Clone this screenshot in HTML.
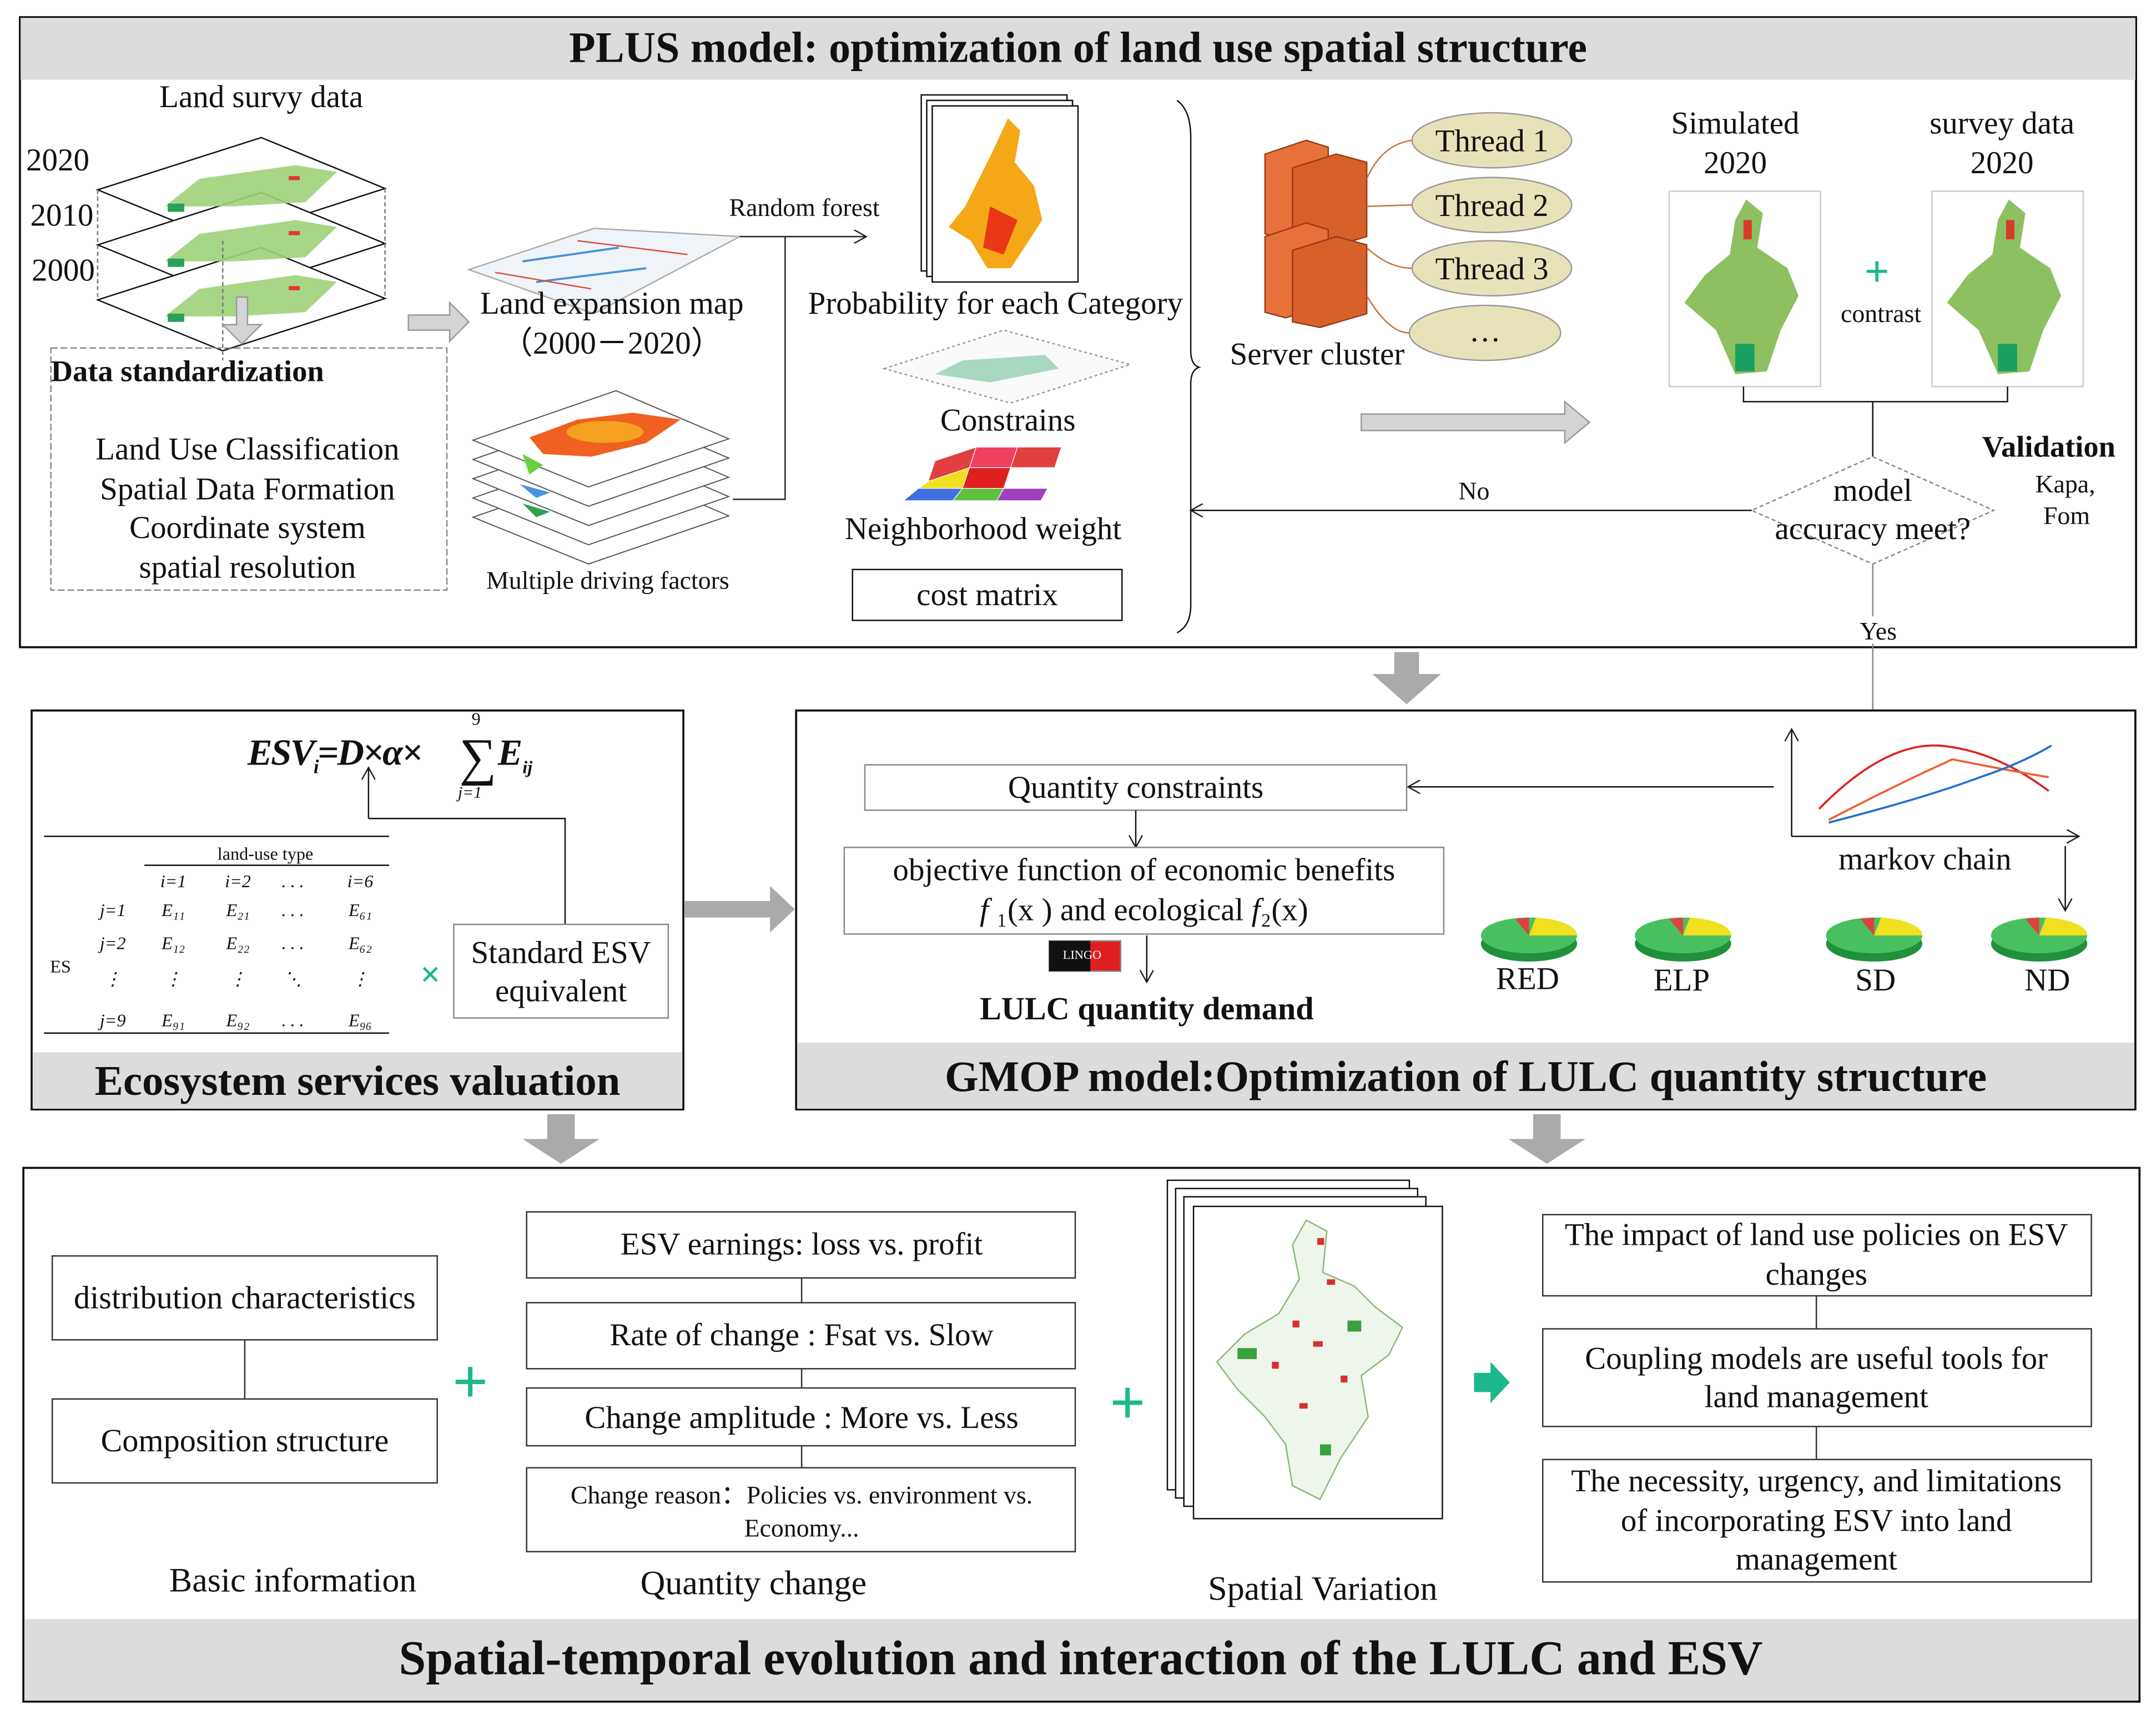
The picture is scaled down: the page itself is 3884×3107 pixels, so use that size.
<!DOCTYPE html>
<html><head><meta charset="utf-8"><style>
html,body{margin:0;padding:0;background:#fff}
svg{display:block}
text{font-family:"Liberation Serif",serif;fill:#111}
</style></head><body>
<svg width="3884" height="3107" viewBox="0 0 1568 1254" preserveAspectRatio="none" xmlns="http://www.w3.org/2000/svg">
<defs>
<marker id="ar" markerWidth="10" markerHeight="10" refX="9" refY="5" orient="auto" markerUnits="userSpaceOnUse"><path d="M0,0 L9,5 L0,10" fill="none" stroke="#222" stroke-width="1"/></marker>
</defs>
<rect width="1568" height="1254" fill="#fff"/>

<!-- TOP BOX -->
<rect x="14.5" y="12.5" width="1539" height="458" fill="#fff" stroke="#111" stroke-width="1.5"/>
<rect x="15" y="13" width="1538" height="45" fill="#dcdcdc"/>
<text x="784" y="45" font-size="31.5" font-weight="bold" text-anchor="middle">PLUS model:  optimization of land use spatial structure</text>

<text x="190" y="78" font-size="23" text-anchor="middle">Land survy data</text>
<text x="19" y="124" font-size="23">2020</text>
<text x="22" y="164" font-size="23">2010</text>
<text x="23" y="204" font-size="23">2000</text>
<g stroke="#111" stroke-width="1" fill="#fff">
<polygon points="71,138 190,100 280,137 162,175"/>
<polygon points="71,178 190,140 280,177 162,215"/>
<polygon points="71,218 190,180 280,217 162,255"/>
</g>
<g fill="#9ed27a" opacity="0.9">
<polygon points="120,150 145,130 215,120 245,125 222,147 170,150"/>
<polygon points="120,190 145,170 215,160 245,165 222,187 170,190"/>
<polygon points="120,230 145,210 215,200 245,205 222,227 170,230"/>
</g>
<g fill="#2aa05a"><rect x="122" y="148" width="12" height="6"/><rect x="122" y="188" width="12" height="6"/><rect x="122" y="228" width="12" height="6"/></g>
<g fill="#e03a2a"><rect x="210" y="128" width="8" height="3"/><rect x="210" y="168" width="8" height="3"/><rect x="210" y="208" width="8" height="3"/></g>
<g stroke="#777" stroke-dasharray="3,2" fill="none"><line x1="71" y1="138" x2="71" y2="218"/><line x1="280" y1="137" x2="280" y2="217"/><line x1="162" y1="175" x2="162" y2="262"/></g>

<polygon points="172,216 180,216 180,236 190,236 176,250 162,236 172,236" fill="#d4d4d4" stroke="#999"/>
<rect x="37" y="253" width="288" height="176" fill="none" stroke="#888" stroke-dasharray="5,2"/>
<text x="37" y="277" font-size="22" font-weight="bold">Data standardization</text>
<g font-size="23" text-anchor="middle"><text x="180" y="334">Land Use Classification</text><text x="180" y="363">Spatial Data Formation</text><text x="180" y="391">Coordinate system</text><text x="180" y="420">spatial resolution</text></g>

<polygon points="297,229 327,229 327,220 341,234 327,248 327,240 297,240" fill="#d4d4d4" stroke="#999"/>
<polygon points="341,196 432,166 538,172 432,228" fill="#eef4f8" stroke="#aaa"/>
<g stroke="#4a8fd8" stroke-width="1.5"><line x1="390" y1="205" x2="470" y2="195"/><line x1="380" y1="190" x2="450" y2="180"/></g>
<g stroke="#e04a3a" stroke-width="1"><line x1="420" y1="175" x2="500" y2="185"/><line x1="360" y1="198" x2="430" y2="210"/></g>
<text x="445" y="228" font-size="23" text-anchor="middle">Land expansion map</text>
<text x="445" y="257" font-size="23" text-anchor="middle">（2000－2020）</text>
<text x="585" y="157" font-size="18.5" text-anchor="middle">Random forest</text>
<polyline points="538,172 630,172" fill="none" stroke="#222" marker-end="url(#ar)"/>
<polyline points="571,172 571,363 533,363" fill="none" stroke="#222"/>
<g stroke="#555" stroke-width="0.8" fill="#fff">
<polygon points="344,376 448,340 530,375 428,410"/>
<polygon points="344,362 448,326 530,361 428,396"/>
<polygon points="344,348 448,312 530,347 428,382"/>
<polygon points="344,334 448,298 530,333 428,368"/>
<polygon points="344,320 448,284 530,319 428,354"/>
</g>
<polygon points="385,318 420,305 460,300 495,305 470,322 430,332 395,330" fill="#f06020"/>
<ellipse cx="440" cy="314" rx="28" ry="8" fill="#f4a020"/>
<polygon points="380,330 395,338 385,345" fill="#6ad040"/>
<polygon points="378,352 400,358 390,362" fill="#4a90e0"/>
<polygon points="380,366 400,372 390,376" fill="#30a050"/>
<text x="442" y="428" font-size="18.5" text-anchor="middle">Multiple driving factors</text>

<g stroke="#111" fill="#fff"><rect x="670" y="69" width="106" height="128"/><rect x="674" y="73" width="106" height="128"/><rect x="678" y="77" width="106" height="128"/></g>
<polygon points="733,86 742,95 738,118 752,135 758,160 745,180 735,195 718,195 706,175 690,165 702,150 712,130 722,110" fill="#f4a818"/>
<polygon points="720,150 740,160 730,185 715,180" fill="#e83818"/>
<text x="724" y="228" font-size="23" text-anchor="middle">Probability for each Category</text>
<polygon points="643,268 730,240 822,265 735,293" fill="#fafafa" stroke="#999" stroke-dasharray="2,2"/>
<polygon points="680,272 700,262 760,258 770,268 720,278" fill="#a8d8c0"/>
<text x="733" y="313" font-size="23" text-anchor="middle">Constrains</text>
<g stroke="#fff" stroke-width="0.5">
<polygon points="680,335 710,325 705,340 675,350" fill="#e04040"/>
<polygon points="710,325 740,325 735,340 705,340" fill="#f04060"/>
<polygon points="740,325 772,325 767,340 735,340" fill="#e04040"/>
<polygon points="675,350 705,340 700,355 668,355" fill="#f0e020"/>
<polygon points="705,340 735,340 730,355 700,355" fill="#e02020"/>
<polygon points="735,340 767,340 762,355 730,355" fill="#fff"/>
<polygon points="668,355 700,355 693,364 657,364" fill="#4070e0"/>
<polygon points="700,355 730,355 725,364 693,364" fill="#60c040"/>
<polygon points="730,355 762,355 757,364 725,364" fill="#a040c0"/>
</g>
<text x="715" y="392" font-size="23" text-anchor="middle">Neighborhood weight</text>
<rect x="620" y="414" width="196" height="37" fill="#fff" stroke="#111"/>
<text x="718" y="440" font-size="23" text-anchor="middle">cost matrix</text>
<path d="M856,73 Q866,80 866,100 L866,255 Q866,265 872,267 Q866,269 866,279 L866,440 Q866,455 856,460" fill="none" stroke="#111"/>

<g stroke="#9a3a18" stroke-width="1">
<polygon points="920,112 950,102 966,107 966,165 935,174 920,170" fill="#e8703a"/>
<polygon points="940,122 972,112 994,118 994,172 960,182 940,178" fill="#d8602a"/>
<polygon points="920,172 950,162 966,167 966,222 935,231 920,227" fill="#e8703a"/>
<polygon points="940,182 972,172 994,178 994,228 960,238 940,234" fill="#d8602a"/>
</g>
<text x="958" y="265" font-size="23" text-anchor="middle">Server cluster</text>
<g fill="#e8e2b8" stroke="#999"><ellipse cx="1085" cy="102" rx="58" ry="20"/><ellipse cx="1085" cy="149" rx="58" ry="20"/><ellipse cx="1085" cy="195" rx="58" ry="20"/><ellipse cx="1080" cy="242" rx="55" ry="20"/></g>
<g stroke="#c8703a" fill="none"><path d="M994,130 Q1005,105 1027,102"/><path d="M994,150 L1027,149"/><path d="M994,180 Q1010,195 1027,195"/><path d="M994,215 Q1010,242 1025,242"/></g>
<g font-size="23" text-anchor="middle"><text x="1085" y="110">Thread 1</text><text x="1085" y="157">Thread 2</text><text x="1085" y="203">Thread 3</text><text x="1080" y="248">…</text></g>
<polygon points="990,301 1138,301 1138,292 1156,307 1138,322 1138,313 990,313" fill="#d4d4d4" stroke="#999"/>

<text x="1262" y="97" font-size="23" text-anchor="middle">Simulated</text>
<text x="1262" y="126" font-size="23" text-anchor="middle">2020</text>
<text x="1456" y="97" font-size="23" text-anchor="middle">survey data</text>
<text x="1456" y="126" font-size="23" text-anchor="middle">2020</text>
<rect x="1214" y="139" width="110" height="142" fill="#fff" stroke="#ccc"/>
<rect x="1405" y="139" width="110" height="142" fill="#fff" stroke="#ccc"/>
<g fill="#8cc060">
<polygon points="1270,145 1282,155 1278,180 1300,195 1308,215 1295,240 1285,270 1262,272 1248,240 1225,220 1240,200 1258,185 1262,160"/>
<polygon points="1461,145 1473,155 1469,180 1491,195 1499,215 1486,240 1476,270 1453,272 1439,240 1416,220 1431,200 1449,185 1453,160"/>
</g>
<g fill="#1aa060"><rect x="1262" y="250" width="14" height="20"/><rect x="1453" y="250" width="14" height="20"/></g>
<g fill="#d83a2a"><rect x="1268" y="160" width="6" height="14"/><rect x="1459" y="160" width="6" height="14"/></g>
<text x="1365" y="208" font-size="32" font-weight="bold" text-anchor="middle" style="fill:#1cb88c">+</text>
<text x="1368" y="234" font-size="18.5" text-anchor="middle">contrast</text>
<polyline points="1268,281 1268,292 1460,292 1460,281" fill="none" stroke="#111"/>
<line x1="1362" y1="292" x2="1362" y2="332" stroke="#111"/>
<polygon points="1362,332 1450,371 1362,410 1274,371" fill="#fff" stroke="#888" stroke-dasharray="3,2"/>
<text x="1362" y="364" font-size="23" text-anchor="middle">model</text>
<text x="1362" y="392" font-size="23" text-anchor="middle">accuracy meet?</text>
<line x1="1274" y1="371" x2="866" y2="371" stroke="#111" marker-end="url(#ar)"/>
<text x="1072" y="363" font-size="18.5" text-anchor="middle">No</text>
<text x="1490" y="332" font-size="22" font-weight="bold" text-anchor="middle">Validation</text>
<text x="1502" y="358" font-size="18.5" text-anchor="middle">Kapa,</text>
<text x="1503" y="381" font-size="18.5" text-anchor="middle">Fom</text>
<line x1="1362" y1="410" x2="1362" y2="522" stroke="#888"/>
<rect x="1348" y="448" width="30" height="20" fill="#fff"/>
<text x="1366" y="465" font-size="18.5" text-anchor="middle">Yes</text>

<polygon points="1014,474 1032,474 1032,490 1048,490 1023,512 998,490 1014,490" fill="#aaa"/>

<!-- ESV box -->
<rect x="23" y="516.5" width="474" height="290" fill="#fff" stroke="#111" stroke-width="1.5"/>
<rect x="24" y="765" width="472" height="41" fill="#dcdcdc"/>
<text x="260" y="796" font-size="31" font-weight="bold" text-anchor="middle">Ecosystem services valuation</text>
<text x="180" y="556" font-size="27" font-style="italic" font-weight="bold" letter-spacing="-1">ESV<tspan font-size="14" dy="6">i</tspan><tspan dy="-6">=D×α×</tspan></text>
<text x="334" y="563" font-size="38">∑</text>
<text x="343" y="527" font-size="13">9</text>
<text x="333" y="580" font-size="12" font-style="italic">j=1</text>
<text x="362" y="556" font-size="27" font-style="italic" font-weight="bold">E<tspan font-size="13" dy="6">ij</tspan></text>
<line x1="268" y1="595" x2="268" y2="558" stroke="#111" marker-end="url(#ar)"/>
<polyline points="268,595 411,595 411,672" fill="none" stroke="#111"/>
<line x1="32" y1="608" x2="283" y2="608" stroke="#111"/>
<text x="193" y="625" font-size="13" text-anchor="middle">land-use type</text>
<line x1="105" y1="629" x2="283" y2="629" stroke="#111"/>
<g font-size="13" font-style="italic" text-anchor="middle">
<text x="126" y="645">i=1</text><text x="173" y="645">i=2</text><text x="213" y="645">. . .</text><text x="262" y="645">i=6</text>
<text x="82" y="666">j=1</text><text x="126" y="666">E₁₁</text><text x="173" y="666">E₂₁</text><text x="213" y="666">. . .</text><text x="262" y="666">E₆₁</text>
<text x="82" y="690">j=2</text><text x="126" y="690">E₁₂</text><text x="173" y="690">E₂₂</text><text x="213" y="690">. . .</text><text x="262" y="690">E₆₂</text>
<text x="82" y="716">⋮</text><text x="126" y="716">⋮</text><text x="173" y="716">⋮</text><text x="213" y="716">⋱</text><text x="262" y="716">⋮</text>
<text x="82" y="746">j=9</text><text x="126" y="746">E₉₁</text><text x="173" y="746">E₉₂</text><text x="213" y="746">. . .</text><text x="262" y="746">E₉₆</text>
</g>
<text x="44" y="707" font-size="13" text-anchor="middle">ES</text>
<line x1="32" y1="751" x2="283" y2="751" stroke="#111"/>
<text x="313" y="717" font-size="26" font-weight="bold" text-anchor="middle" style="fill:#1cb88c">×</text>
<rect x="330" y="672" width="156" height="68" fill="#fff" stroke="#888"/>
<text x="408" y="700" font-size="23" text-anchor="middle">Standard ESV</text>
<text x="408" y="728" font-size="23" text-anchor="middle">equivalent</text>

<polygon points="498,655 560,655 560,644 578,661 560,678 560,667 498,667" fill="#aaa"/>

<!-- GMOP box -->
<rect x="579" y="516.5" width="974" height="290" fill="#fff" stroke="#111" stroke-width="1.5"/>
<rect x="580" y="758" width="972" height="48" fill="#dcdcdc"/>
<text x="1066" y="793" font-size="31.5" font-weight="bold" text-anchor="middle">GMOP model:Optimization of LULC quantity structure</text>
<rect x="629" y="556" width="394" height="33" fill="#fff" stroke="#888"/>
<text x="826" y="580" font-size="23" text-anchor="middle">Quantity constraints</text>
<line x1="1290" y1="572" x2="1024" y2="572" stroke="#111" marker-end="url(#ar)"/>
<line x1="826" y1="589" x2="826" y2="616" stroke="#111" marker-end="url(#ar)"/>
<rect x="614" y="616" width="436" height="63" fill="#fff" stroke="#888"/>
<text x="832" y="640" font-size="23" text-anchor="middle">objective function of economic benefits</text>
<text x="832" y="669" font-size="23" text-anchor="middle"><tspan font-style="italic">f</tspan> ₁(x ) and ecological <tspan font-style="italic">f</tspan>₂(x)</text>
<rect x="763" y="684" width="52" height="22" fill="#e02020" stroke="#888"/>
<rect x="763" y="684" width="30" height="22" fill="#111"/>
<text x="787" y="697" font-size="9" text-anchor="middle" style="fill:#fff">LINGO</text>
<line x1="834" y1="680" x2="834" y2="714" stroke="#111" marker-end="url(#ar)"/>
<text x="834" y="741" font-size="23.5" font-weight="bold" text-anchor="middle">LULC quantity demand</text>
<polyline points="1303,608 1303,530" fill="none" stroke="#111" marker-end="url(#ar)"/>
<polyline points="1303,608 1512,608" fill="none" stroke="#111" marker-end="url(#ar)"/>
<path d="M1323,588 Q1370,540 1410,542 Q1450,545 1490,575" fill="none" stroke="#e02020" stroke-width="1.5"/>
<path d="M1330,596 Q1380,570 1420,552 Q1460,560 1490,565" fill="none" stroke="#f06030" stroke-width="1.5"/>
<path d="M1330,598 Q1400,580 1440,565 Q1470,555 1492,542" fill="none" stroke="#2070d0" stroke-width="1.5"/>
<text x="1400" y="632" font-size="23" text-anchor="middle">markov chain</text>
<line x1="1502" y1="615" x2="1502" y2="662" stroke="#111" marker-end="url(#ar)"/>
<g>
<g transform="translate(1112,680)"><ellipse cx="0" cy="6" rx="35" ry="13" fill="#20903a"/><ellipse cx="0" cy="0" rx="35" ry="13" fill="#48c060"/><path d="M0,0 L5,-13 A35,13 0 0 1 35,0 Z" fill="#f0e020"/><path d="M0,0 L-10,-12 L0,-13 Z" fill="#e04040"/></g>
<g transform="translate(1224,680)"><ellipse cx="0" cy="6" rx="35" ry="13" fill="#20903a"/><ellipse cx="0" cy="0" rx="35" ry="13" fill="#48c060"/><path d="M0,0 L5,-13 A35,13 0 0 1 35,0 Z" fill="#f0e020"/><path d="M0,0 L-10,-12 L0,-13 Z" fill="#e04040"/></g>
<g transform="translate(1363,680)"><ellipse cx="0" cy="6" rx="35" ry="13" fill="#20903a"/><ellipse cx="0" cy="0" rx="35" ry="13" fill="#48c060"/><path d="M0,0 L5,-13 A35,13 0 0 1 35,0 Z" fill="#f0e020"/><path d="M0,0 L-10,-12 L0,-13 Z" fill="#e04040"/></g>
<g transform="translate(1483,680)"><ellipse cx="0" cy="6" rx="35" ry="13" fill="#20903a"/><ellipse cx="0" cy="0" rx="35" ry="13" fill="#48c060"/><path d="M0,0 L5,-13 A35,13 0 0 1 35,0 Z" fill="#f0e020"/><path d="M0,0 L-10,-12 L0,-13 Z" fill="#e04040"/></g>
</g>
<g font-size="23" text-anchor="middle"><text x="1111" y="719">RED</text><text x="1223" y="720">ELP</text><text x="1364" y="720">SD</text><text x="1489" y="720">ND</text></g>

<polygon points="398,810 418,810 418,828 436,828 408,846 380,828 398,828" fill="#aaa"/>
<polygon points="1115,810 1135,810 1135,828 1153,828 1125,846 1097,828 1115,828" fill="#aaa"/>

<!-- BOTTOM BOX -->
<rect x="17" y="849" width="1539" height="388" fill="#fff" stroke="#111" stroke-width="1.5"/>
<rect x="18" y="1177" width="1537" height="59" fill="#dcdcdc"/>
<text x="786" y="1217" font-size="35.5" font-weight="bold" text-anchor="middle">Spatial-temporal evolution and interaction of the LULC and ESV</text>
<rect x="38" y="913" width="280" height="61" fill="#fff" stroke="#333"/>
<text x="178" y="951" font-size="23.5" text-anchor="middle">distribution characteristics</text>
<line x1="178" y1="974" x2="178" y2="1017" stroke="#333"/>
<rect x="38" y="1017" width="280" height="61" fill="#fff" stroke="#333"/>
<text x="178" y="1055" font-size="23.5" text-anchor="middle">Composition structure</text>
<text x="213" y="1157" font-size="25" text-anchor="middle">Basic information</text>
<text x="342" y="1020" font-size="46" font-weight="bold" text-anchor="middle" style="fill:#1cb88c">+</text>
<line x1="583" y1="929" x2="583" y2="1067" stroke="#333"/>
<g fill="#fff" stroke="#333">
<rect x="383" y="881" width="399" height="48"/>
<rect x="383" y="947" width="399" height="48"/>
<rect x="383" y="1009" width="399" height="42"/>
<rect x="383" y="1067" width="399" height="61"/>
</g>
<g text-anchor="middle"><text x="583" y="912" font-size="23">ESV earnings: loss vs.  profit</text>
<text x="583" y="978" font-size="23">Rate of change : Fsat vs. Slow</text>
<text x="583" y="1038" font-size="23">Change amplitude : More vs. Less</text>
<text x="583" y="1093" font-size="18.5">Change reason：Policies vs. environment vs.</text>
<text x="583" y="1117" font-size="18.5">Economy...</text>
<text x="548" y="1159" font-size="25">Quantity change</text></g>
<text x="820" y="1035" font-size="46" font-weight="bold" text-anchor="middle" style="fill:#1cb88c">+</text>
<g fill="#fff" stroke="#111"><rect x="849" y="858" width="176" height="225"/><rect x="855" y="864" width="176" height="225"/><rect x="861" y="870" width="176" height="225"/><rect x="868" y="877" width="181" height="227"/></g>
<polygon points="950,887 965,895 962,925 985,935 1000,950 1020,965 1010,985 990,1000 995,1030 975,1060 960,1090 940,1080 935,1050 920,1030 900,1010 885,990 905,970 930,955 945,930 940,905" fill="#eef5ea" stroke="#8ab878"/>
<g fill="#d83030"><rect x="958" y="900" width="5" height="5"/><rect x="965" y="930" width="6" height="4"/><rect x="940" y="960" width="5" height="5"/><rect x="955" y="975" width="7" height="4"/><rect x="925" y="990" width="5" height="5"/><rect x="975" y="1000" width="5" height="5"/><rect x="945" y="1020" width="6" height="4"/></g>
<g fill="#3aa040"><rect x="900" y="980" width="14" height="8"/><rect x="980" y="960" width="10" height="8"/><rect x="960" y="1050" width="8" height="8"/></g>
<text x="962" y="1163" font-size="25" text-anchor="middle">Spatial Variation</text>
<polygon points="1072,998 1084,998 1084,990 1098,1005 1084,1020 1084,1012 1072,1012" fill="#1cb88c"/>
<line x1="1321" y1="942" x2="1321" y2="1061" stroke="#333"/>
<g fill="#fff" stroke="#333"><rect x="1122" y="883" width="399" height="59"/><rect x="1122" y="966" width="399" height="71"/><rect x="1122" y="1061" width="399" height="89"/></g>
<g font-size="23" text-anchor="middle">
<text x="1321" y="905">The impact of land use policies on ESV</text><text x="1321" y="934">changes</text>
<text x="1321" y="995">Coupling models are useful tools for</text><text x="1321" y="1023">land management</text>
<text x="1321" y="1084">The necessity, urgency, and limitations</text><text x="1321" y="1113">of incorporating ESV into land</text><text x="1321" y="1141">management</text>
</g>
</svg>
</body></html>
